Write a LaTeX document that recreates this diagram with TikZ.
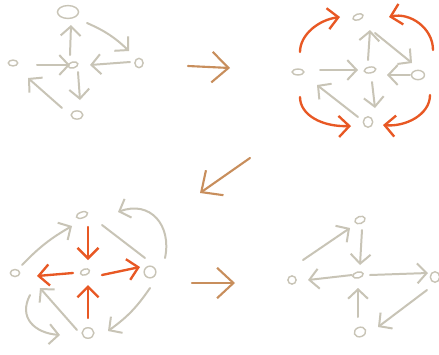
\documentclass[tikz,border=0pt]{standalone}
\usetikzlibrary{arrows.meta,calc,shapes.geometric}
\definecolor{gy}{RGB}{200,196,182}
\definecolor{org}{RGB}{232,88,36}
\definecolor{brn}{RGB}{200,142,92}
\begin{document}
\begin{tikzpicture}[x=0.03cm,y=-0.03cm,
 nd/.style 2 args={draw=gy,line width=1.2pt,ellipse,inner sep=0pt,minimum width=#1,minimum height=#2},
 ga/.style={draw=gy,line width=1.7pt,line cap=round,-{Straight Barb[length=8pt,width=17pt]}},
 gl/.style={draw=gy,line width=1.7pt,line cap=round},
 oa/.style={draw=org,line width=2pt,line cap=round,-{Straight Barb[length=9pt,width=18pt]}},
 ba/.style={draw=brn,line width=1.8pt,line cap=round,-{Straight Barb[length=14pt,width=26pt]}}]
\fill[white] (0,0) rectangle (439,354);
\useasboundingbox (0,0) rectangle (439,354);

% ---------- panel 1 ----------
\node[nd={18pt}{11pt}] (p1T) at (68,12) {};
\node[nd={8.5pt}{5pt},rotate=15] (p1C) at (73,65) {};
\node[nd={8pt}{5pt}] (p1L) at (13,63) {};
\node[nd={7pt}{8pt}] (p1R) at (139,63) {};
\node[nd={10pt}{7pt}] (p1B) at (77,115) {};
\draw[ga] ($(p1C)+(-3,-10)$) -- ($(p1T)+(3,13)$);
\draw[ga] ($(p1T)+(19,11)$) to[bend left=10] ($(p1R)+(-10,-12)$);
\draw[ga] ($(p1R)+(-9,-1)$) -- ($(p1C)+(17,0)$);
\draw[ga] ($(p1L)+(24,2)$) -- ($(p1C)+(-3,0)$);
\draw[ga] ($(p1C)+(5,7)$) -- ($(p1B)+(3,-15)$);
\draw[ga] ($(p1B)+(-15,-7)$) -- ($(p1L)+(15,15)$);

% ---------- panel 2 ----------
\node[nd={9pt}{5pt},rotate=20] (p2T) at (358,17) {};
\node[nd={10pt}{5pt},rotate=10] (p2C) at (370,70) {};
\node[nd={10pt}{5pt}] (p2L) at (298,72) {};
\node[nd={11pt}{8pt}] (p2R) at (418,75) {};
\node[nd={8pt}{9pt}] (p2B) at (368,122) {};
\draw[ga] ($(p2C)+(-2,-10)$) -- ($(p2T)+(12,13)$);
\draw[ga] ($(p2T)+(17,16)$) -- ($(p2R)+(-6,-12)$);
\draw[ga] ($(p2L)+(22,-2)$) -- ($(p2C)+(-12,0)$);
\draw[ga] ($(p2R)+(-8,0)$) -- ($(p2C)+(17,5)$);
\draw[ga] ($(p2C)+(2,12)$) -- ($(p2B)+(7,-14)$);
\draw[ga] ($(p2B)+(-10,-5)$) -- ($(p2L)+(19,13)$);
\draw[oa] ($(p2L)+(2,-20)$) .. controls ($(p2L)+(2,-37)$) and ($(p2T)+(-40,3)$) .. ($(p2T)+(-18,0)$);
\draw[oa] ($(p2R)+(15,-25)$) .. controls ($(p2R)+(15,-47)$) and ($(p2T)+(52,-5)$) .. ($(p2T)+(31,0)$);
\draw[oa] ($(p2L)+(2,25)$) .. controls ($(p2L)+(2,43)$) and ($(p2B)+(-46,5)$) .. ($(p2B)+(-17,4)$);
\draw[oa] ($(p2R)+(12,20)$) .. controls ($(p2R)+(12,40)$) and ($(p2B)+(37,5)$) .. ($(p2B)+(15,3)$);

% ---------- panel 3 ----------
\node[nd={10pt}{5pt},rotate=20] (p3T) at (82,215) {};
\node[nd={8pt}{5pt},rotate=20] (p3C) at (85,272) {};
\node[nd={8pt}{6pt}] (p3L) at (15,273) {};
\node[nd={10pt}{10pt}] (p3R) at (150,272) {};
\node[nd={10pt}{9pt}] (p3B) at (88,333) {};
\draw[oa] ($(p3T)+(6,12)$) -- ($(p3C)+(3,-12)$);
\draw[oa] ($(p3C)+(-12,1)$) -- ($(p3L)+(22,3)$);
\draw[oa] ($(p3C)+(17,3)$) -- ($(p3R)+(-10,-5)$);
\draw[oa] ($(p3B)+(0,-15)$) -- ($(p3C)+(3,13)$);
\draw[ga] ($(p3L)+(7,-8)$) to[bend left=8] ($(p3T)+(-10,11)$);
\draw[gl] ($(p3T)+(20,10)$) -- ($(p3R)+(-5,-14)$);
\draw[ga] ($(p3R)+(15,-14)$) .. controls ($(p3R)+(22,-47)$) and ($(p3T)+(68,-15)$) .. ($(p3T)+(36,-3)$);
\draw[ga] ($(p3R)+(0,16)$) to[bend left=10] ($(p3B)+(20,-2)$);
\draw[ga] ($(p3B)+(-11,-3)$) -- ($(p3L)+(25,15)$);
\draw[ga] ($(p3L)+(15,22)$) .. controls ($(p3L)+(3,45)$) and ($(p3B)+(-53,0)$) .. ($(p3B)+(-28,2)$);

% ---------- panel 4 ----------
\node[nd={9pt}{6pt},rotate=20] (p4T) at (360,220) {};
\node[nd={9pt}{5pt},rotate=15] (p4C) at (358,275) {};
\node[nd={7pt}{7pt}] (p4L) at (292,280) {};
\node[nd={8pt}{9pt}] (p4R) at (435,277) {};
\node[nd={10pt}{8pt},rotate=20] (p4B) at (360,332) {};
\draw[ga] ($(p4L)+(11,-20)$) -- ($(p4T)+(-10,8)$);
\draw[ga] ($(p4T)+(2,10)$) -- ($(p4C)+(2,-10)$);
\draw[ga] ($(p4C)+(-6,0)$) -- ($(p4L)+(16,0)$);
\draw[ga] ($(p4C)+(12,0)$) -- ($(p4R)+(-7,-4)$);
\draw[ga] ($(p4B)+(-2,-15)$) -- ($(p4C)+(0,13)$);
\draw[ga] ($(p4R)+(-8,13)$) -- ($(p4B)+(18,-5)$);

% ---------- transition arrows ----------
\coordinate (t1s) at (188,66);
\coordinate (t1e) at (230,68);
\coordinate (t2s) at (250,158);
\coordinate (t2e) at (200,193);
\coordinate (t3s) at (192,283);
\coordinate (t3e) at (235,283);
\draw[ba] (t1s) -- (t1e);
\draw[ba] (t2s) -- (t2e);
\draw[ba] (t3s) -- (t3e);
\end{tikzpicture}
\end{document}
